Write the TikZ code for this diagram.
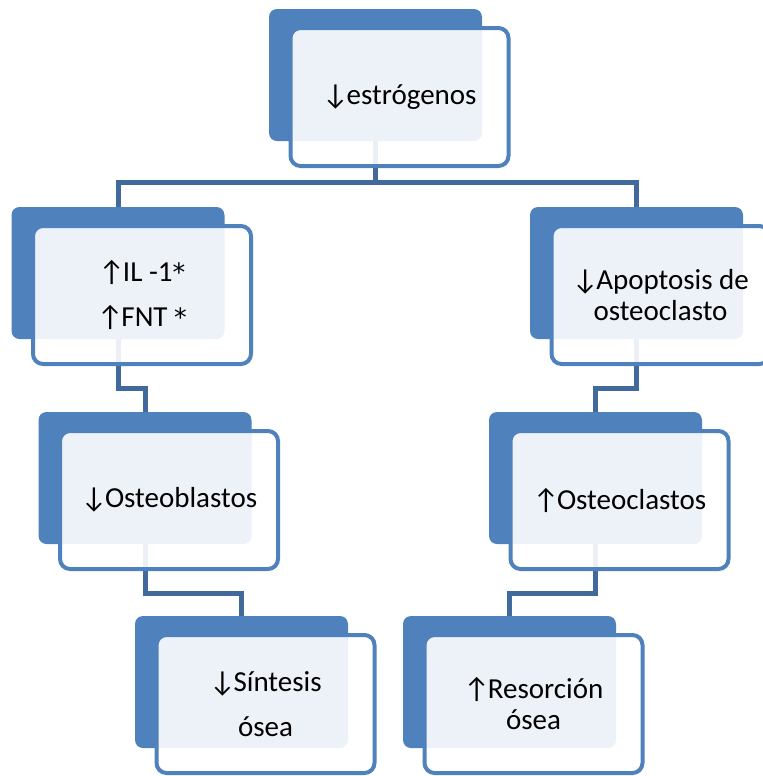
\documentclass[tikz,border=0pt]{standalone}
\usepackage{fontspec}
\setmainfont{Carlito}
\newfontfamily\symf{DejaVu Sans}
\usetikzlibrary{calc}
\pgfdeclarelayer{bg}
\pgfsetlayers{bg,main}
\definecolor{boxblue}{RGB}{79,129,189}
\definecolor{linkblue}{RGB}{65,105,155}
\newcommand{\upar}{↑\kern-1.5pt}
\newcommand{\dnar}{↓\kern-1.5pt}
\newcommand{\astk}{{\symf\fontsize{19}{19}\selectfont *}}
\tikzset{
  backbox/.style={rectangle, fill=boxblue, rounded corners=6pt, inner sep=0pt,
    minimum width=213*0.75pt, minimum height=132*0.75pt},
  frontbox/.style={rectangle, draw=boxblue, line width=3pt, fill=white, fill opacity=0.9,
    text opacity=1, rounded corners=7.5pt, inner sep=0pt, align=center,
    minimum width=218*0.75pt, minimum height=138*0.75pt,
    font=\fontsize{21.75}{26}\selectfont},
  wide/.style={font=\fontsize{21.75}{33.5}\selectfont},
  tight/.style={font=\fontsize{21.75}{23.25}\selectfont},
  link/.style={draw=linkblue, line width=3.75pt}
}
\begin{document}
\begin{tikzpicture}[x=0.75pt,y=-0.75pt]
\useasboundingbox (0,0) rectangle (763,776);
\clip (0,0) rectangle (763,776);
% back boxes
\node[backbox] (b1) at (375.5,75) {};
\node[backbox] (b2) at (118,273) {};
\node[backbox] (b4) at (636.5,273) {};
\node[backbox] (b3) at (145,478) {};
\node[backbox] (b5) at (595.5,478) {};
\node[backbox] (b6) at (241.5,682) {};
\node[backbox] (b7) at (509.5,682) {};
% front boxes
\node[frontbox] (f1) at (399.5,97) {\dnar estrógenos};
\node[frontbox, wide] (f2) at (142,295) {\upar IL -1\astk\\\upar FNT \astk};
\node[frontbox, tight] (f4) at (660.5,295) {\dnar Apoptosis de\\osteoclasto};
\node[frontbox] (f3) at (169,500) {\dnar Osteoblastos};
\node[frontbox] (f5) at (619.5,500) {\upar Osteoclastos};
\node[frontbox, wide] (f6) at (265.5,704) {\dnar Síntesis\\ósea};
\node[frontbox, tight] (f7) at (533.5,704) {\upar Resorción\\ósea};
% connectors
\coordinate (j1) at (375.5,182);
\coordinate (y23) at (0,388);
\coordinate (y36) at (0,593);
\begin{pgfonlayer}{bg}
\draw[link] (b1.center) -- (j1);
\draw[link] (b2.center) |- (j1) -| (b4.center);
\draw[link] (b2.center) -- (b2.center |- y23) -| (b3.center);
\draw[link] (b4.center) -- (b4.center |- y23) -| (b5.center);
\draw[link] (b3.center) -- (b3.center |- y36) -| (b6.center);
\draw[link] (b5.center) -- (b5.center |- y36) -| (b7.center);
\end{pgfonlayer}
\end{tikzpicture}
\end{document}
